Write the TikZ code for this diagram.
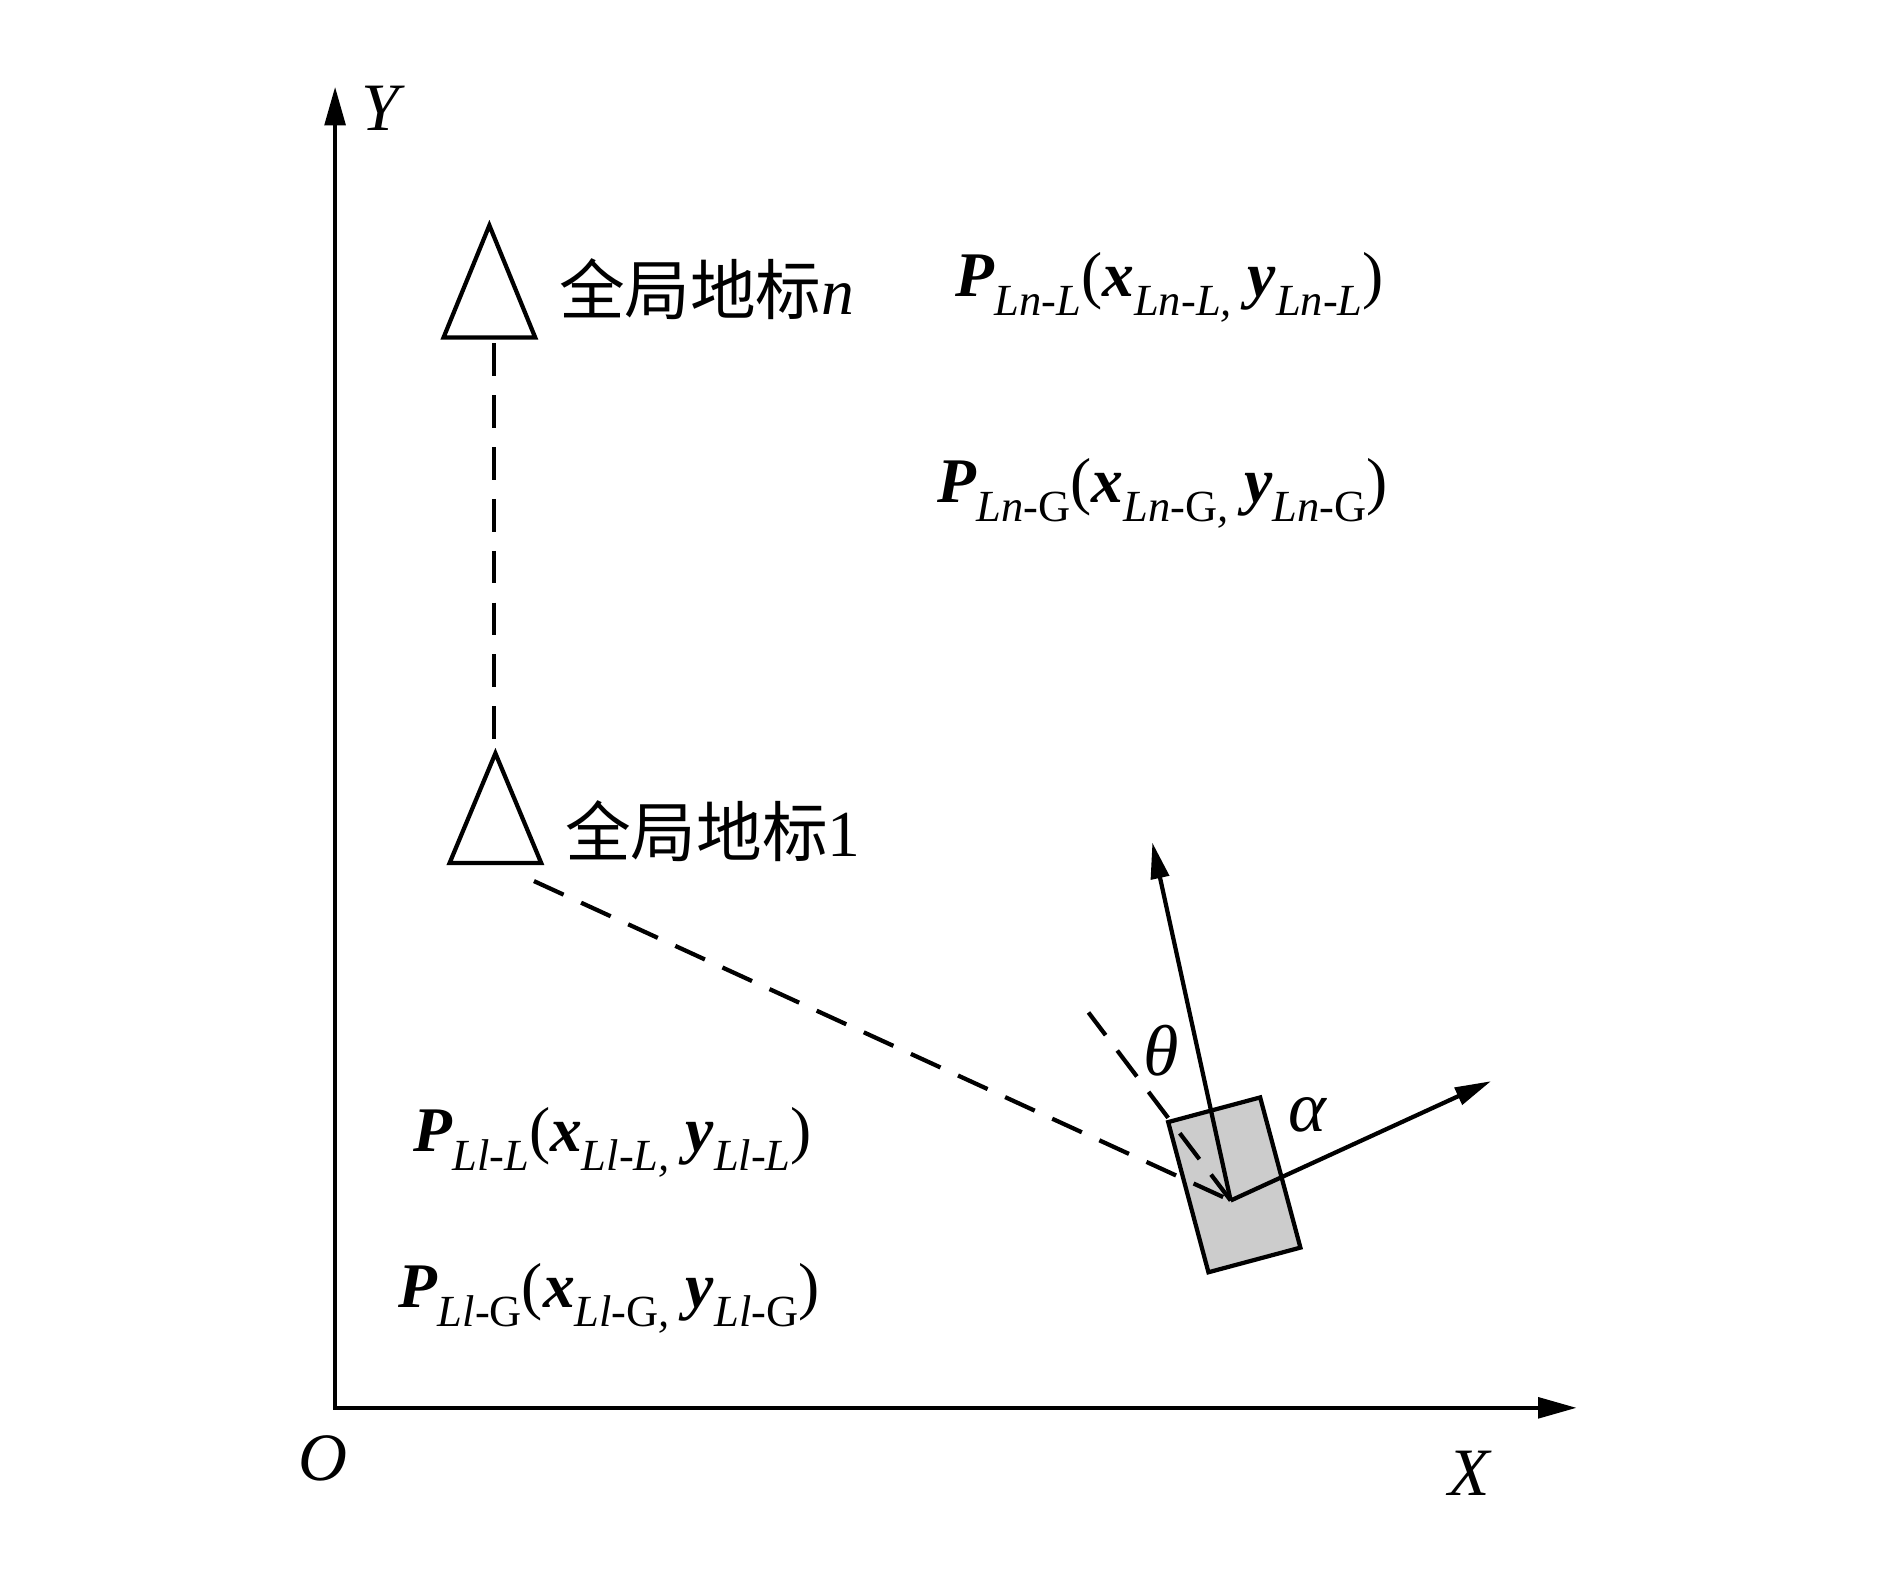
\documentclass[tikz,border=0pt]{standalone}
\usepackage{fontspec}
\setmainfont{Liberation Serif}
\newfontfamily\cjk{Noto Sans CJK SC}
\usetikzlibrary{arrows.meta,positioning,calc}

\newcommand{\bv}[1]{\textbf{\textit{#1}}}
\newcommand{\lsub}[1]{\raisebox{-4.5pt}{\fontsize{10.5}{10.5}\selectfont\textit{#1}}}

\begin{document}
\begin{tikzpicture}[
  line width=1pt,
  axis/.style={{Triangle[length=3.2mm,width=1.7mm]}-{Triangle[length=3.2mm,width=1.7mm]}},
  vec/.style={-{Triangle[length=3mm,width=1.5mm]}},
  link/.style={dash pattern=on 2.7mm off 1.6mm},
  lbl/.style={font=\fontsize{15}{15}\selectfont, inner sep=0pt},
  axlbl/.style={font=\fontsize{16}{16}\selectfont, inner sep=0pt},
  greek/.style={font=\fontsize{17}{17}\selectfont, inner sep=0pt},
  cjklbl/.style={font=\fontsize{15.5}{15.5}\selectfont\cjk, anchor=west, inner sep=0pt},
  vehicle/.style={draw, fill=black!20, rectangle, inner sep=0pt},
]
\useasboundingbox (0,0) rectangle (15.68,13.03);

\coordinate (O) at (2.78,1.35);
\coordinate (yend) at (2.78,12.31);
\coordinate (xend) at (13.08,1.35);
\draw[axis] (yend) -- (O) -- (xend);
\node[axlbl] (ylab) at (3.18,12.13) {\textit{Y}};
\node[axlbl] (olab) at (2.68,0.93) {\textit{O}};
\node[axlbl] (xlab) at (12.20,0.81) {\textit{X}};

\draw (4.06,11.16) coordinate (lmn) -- (4.44,10.23) -- (3.68,10.23) -- cycle;
\draw (4.11,6.78) coordinate (lm1) -- (4.49,5.87) -- (3.73,5.87) -- cycle;
\node[cjklbl] (namen) at (4.62,10.63) {全局地标{\normalfont\textit{n}}};
\node[cjklbl] (name1) at (4.67,6.13) {全局地标{\normalfont 1}};

\node[lbl, anchor=base west] (pnl) at (7.91,10.57)
  {\bv{P}\lsub{Ln-L}(\bv{x}\lsub{Ln-L,}\ \bv{y}\lsub{Ln-L})};
\node[lbl, anchor=base west] (png) at (7.76,8.86)
  {\bv{P}\lsub{Ln-\textup{G}}(\bv{x}\lsub{Ln-\textup{G},}\ \bv{y}\lsub{Ln-\textup{G}})};
\node[lbl, anchor=base west] (p1l) at (3.41,3.475)
  {\bv{P}\lsub{Ll-L}(\bv{x}\lsub{Ll-L,}\ \bv{y}\lsub{Ll-L})};
\node[lbl, anchor=base west] (p1g) at (3.29,2.18)
  {\bv{P}\lsub{Ll-\textup{G}}(\bv{x}\lsub{Ll-\textup{G},}\ \bv{y}\lsub{Ll-\textup{G}})};

\node[vehicle, rotate=15, minimum width=0.79cm, minimum height=1.29cm] (car) at (10.24,3.20) {};
\coordinate (c) at (10.21,3.07);
\coordinate (lmn-foot) at (4.10,10.18);
\coordinate (lm1-top) at (4.10,6.88);
\coordinate (lm1-foot) at (4.43,5.72);
\coordinate (bear) at (9.03,4.63);
\coordinate (head) at (9.56,6.04);
\coordinate (side) at (12.37,4.06);

\draw[link] (lmn-foot) -- (lm1-top);
\draw[link] (lm1-foot) -- (c);
\draw[link] (c) -- (bear);
\draw[vec] (c) -- (head);
\draw[vec] (c) -- (side);

\node[greek] (theta) at (9.63,4.31) {\textit{θ}};
\node[greek] (alpha) at (10.85,3.78) {\textit{α}};
\end{tikzpicture}
\end{document}
